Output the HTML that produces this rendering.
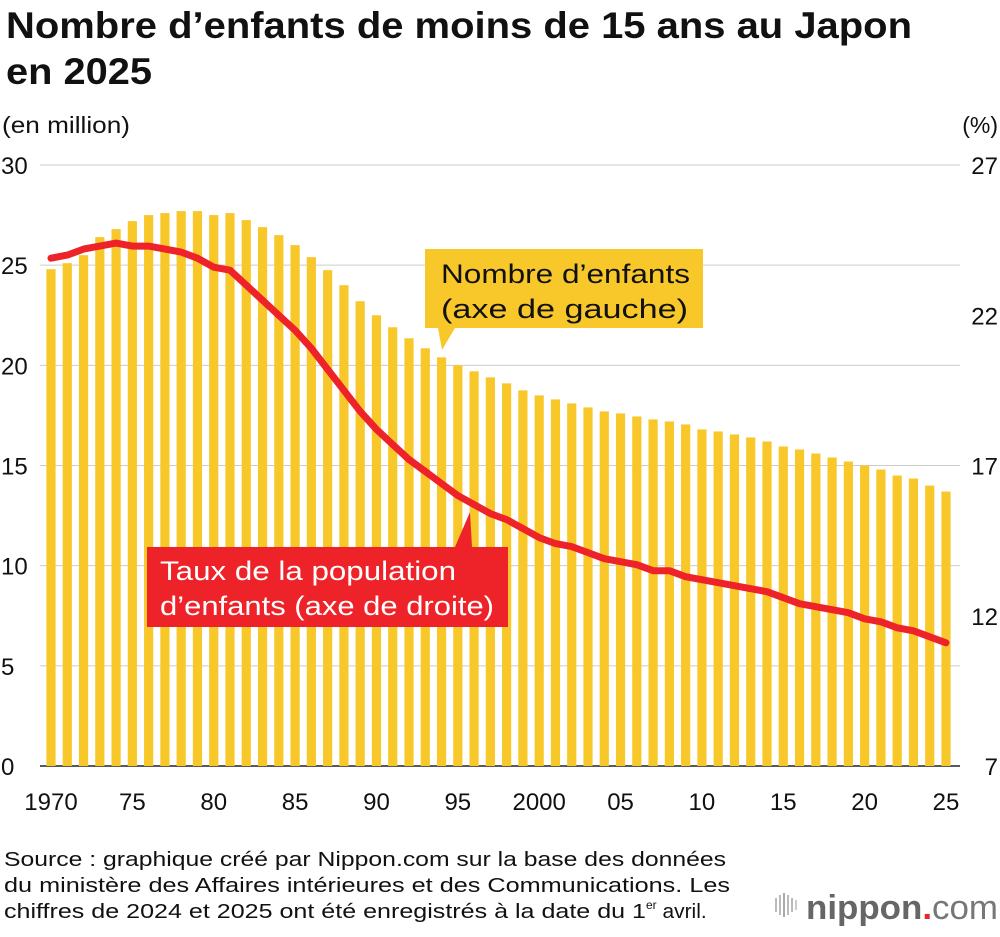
<!DOCTYPE html>
<html><head><meta charset="utf-8"><style>
body{margin:0;background:#fff;width:1000px;height:932px;overflow:hidden;font-family:"Liberation Sans",Arial,sans-serif;}
</style></head><body>
<svg width="1000" height="932" xmlns="http://www.w3.org/2000/svg" font-family="Liberation Sans, Arial, sans-serif">
<text x="6" y="38" font-size="37" font-weight="bold" fill="#111" textLength="906" lengthAdjust="spacingAndGlyphs">Nombre d’enfants de moins de 15 ans au Japon</text>
<text x="6" y="84" font-size="37" font-weight="bold" fill="#111" textLength="146" lengthAdjust="spacingAndGlyphs">en 2025</text>
<text x="2" y="133" font-size="23" fill="#111" textLength="128" lengthAdjust="spacingAndGlyphs">(en million)</text>
<text x="998" y="133" font-size="23" fill="#111" text-anchor="end">(%)</text>
<g id="grid"></g><g id="bars"></g><g id="line"></g><g id="labels"></g>
<text x="4" y="866" font-size="20.5" fill="#111" textLength="722" lengthAdjust="spacingAndGlyphs">Source : graphique créé par Nippon.com sur la base des données</text>
<text x="4" y="892" font-size="20.5" fill="#111" textLength="726" lengthAdjust="spacingAndGlyphs">du ministère des Affaires intérieures et des Communications. Les</text>
<text x="4" y="918" font-size="20.5" fill="#111"><tspan textLength="642" lengthAdjust="spacingAndGlyphs">chiffres de 2024 et 2025 ont été enregistrés à la date du 1</tspan><tspan font-size="12" dy="-9">er</tspan><tspan dy="9" textLength="50" lengthAdjust="spacingAndGlyphs"> avril.</tspan></text>
<g>
<rect x="775" y="898" width="2" height="14" fill="#bbb"/><rect x="779" y="895" width="2" height="20" fill="#bbb"/><rect x="783" y="893" width="2" height="24" fill="#aaa"/><rect x="787" y="895" width="2" height="20" fill="#bbb"/><rect x="791" y="898" width="2" height="14" fill="#bbb"/><rect x="795" y="900" width="2" height="10" fill="#ccc"/>
<text x="806" y="919" font-size="34" font-weight="bold" fill="#666" textLength="192" lengthAdjust="spacingAndGlyphs">nippon<tspan fill="#e8262a">.</tspan><tspan font-weight="normal" fill="#777">com</tspan></text>
</g>
</svg>
<script>
const years=[1970,1971,1972,1973,1974,1975,1976,1977,1978,1979,1980,1981,1982,1983,1984,1985,1986,1987,1988,1989,1990,1991,1992,1993,1994,1995,1996,1997,1998,1999,2000,2001,2002,2003,2004,2005,2006,2007,2008,2009,2010,2011,2012,2013,2014,2015,2016,2017,2018,2019,2020,2021,2022,2023,2024,2025];
const children=[24.8,25.1,25.5,26.4,26.8,27.2,27.5,27.6,27.7,27.7,27.5,27.6,27.25,26.9,26.5,26.0,25.4,24.75,24.0,23.2,22.5,21.9,21.35,20.85,20.4,20.0,19.7,19.4,19.1,18.75,18.5,18.3,18.1,17.9,17.7,17.6,17.45,17.3,17.2,17.05,16.8,16.7,16.55,16.4,16.2,15.95,15.8,15.6,15.4,15.2,15.0,14.8,14.5,14.35,14.0,13.7];
const share=[23.9,24.0,24.2,24.3,24.4,24.3,24.3,24.2,24.1,23.9,23.6,23.5,23.0,22.5,22.0,21.5,20.9,20.2,19.5,18.8,18.2,17.7,17.2,16.8,16.4,16.0,15.7,15.4,15.2,14.9,14.6,14.4,14.3,14.1,13.9,13.8,13.7,13.5,13.5,13.3,13.2,13.1,13.0,12.9,12.8,12.6,12.4,12.3,12.2,12.1,11.9,11.8,11.6,11.5,11.3,11.1];
const leftTicks=[0,5,10,15,20,25,30];
const rightTicks=[7,12,17,22,27];
const xLabels=["1970","75","80","85","90","95","2000","05","10","15","20","25"];
const NS="http://www.w3.org/2000/svg";
const x=i=>51+i*(895/55);
const yL=v=>766-v*(601/30);
const yR=v=>766-(v-7)*(601/20);
function mk(tag,attrs,parent,text){const e=document.createElementNS(NS,tag);for(const k in attrs)e.setAttribute(k,attrs[k]);if(text!==undefined)e.textContent=text;document.getElementById(parent).appendChild(e);return e;}
leftTicks.forEach(t=>{
 const g=mk('line',{x1:40,x2:960,y1:yL(t),y2:yL(t),stroke:t===0?'#222':'#ccc','stroke-width':t===0?1.5:1},'grid');
 
 
 const l=mk('text',{x:1,y:yL(t)+9,'font-size':24,fill:'#111'},'grid',String(t));
 
 
});
rightTicks.forEach(t=>{
 const l=mk('text',{x:998,y:yR(t)+9,'font-size':24,fill:'#111','text-anchor':'end'},'grid',String(t));
 
 
});
xLabels.forEach((s,k)=>{
 const l=mk('text',{x:x(k*5),y:810,'font-size':24,fill:'#111','text-anchor':'middle'},'grid',s);
 
 
});
children.forEach((v,i)=>{
 const b=mk('rect',{x:x(i)-4.6,y:yL(v),width:9.2,height:yL(0)-yL(v),fill:'#f8c82b'},'bars');
 
 
});
const d=share.map((v,i)=>(i?'L':'M')+x(i).toFixed(1)+','+yR(v).toFixed(1)).join(' ');
const p=mk('path',{d:d,fill:'none',stroke:'#ee2329','stroke-width':7,'stroke-linejoin':'round','stroke-linecap':'round'},'line');


const yb=mk('path',{d:'M425,249 H703 V328 H455 L442,350 L438,328 H425 Z',fill:'#f8c82b'},'labels');


const t1=mk('text',{x:441,y:283,'font-size':27,fill:'#111',textLength:249,lengthAdjust:'spacingAndGlyphs'},'labels','Nombre d’enfants');


const t2=mk('text',{x:441,y:318,'font-size':27,fill:'#111',textLength:247,lengthAdjust:'spacingAndGlyphs'},'labels','(axe de gauche)');


const rb=mk('path',{d:'M147,547 H455 L470,512 L472,547 H508 V627 H147 Z',fill:'#ee2329'},'labels');


const t3=mk('text',{x:160,y:580,'font-size':27,fill:'#fff',textLength:296,lengthAdjust:'spacingAndGlyphs'},'labels','Taux de la population');


const t4=mk('text',{x:160,y:615,'font-size':27,fill:'#fff',textLength:334,lengthAdjust:'spacingAndGlyphs'},'labels','d’enfants (axe de droite)');


</script>
</body></html>
